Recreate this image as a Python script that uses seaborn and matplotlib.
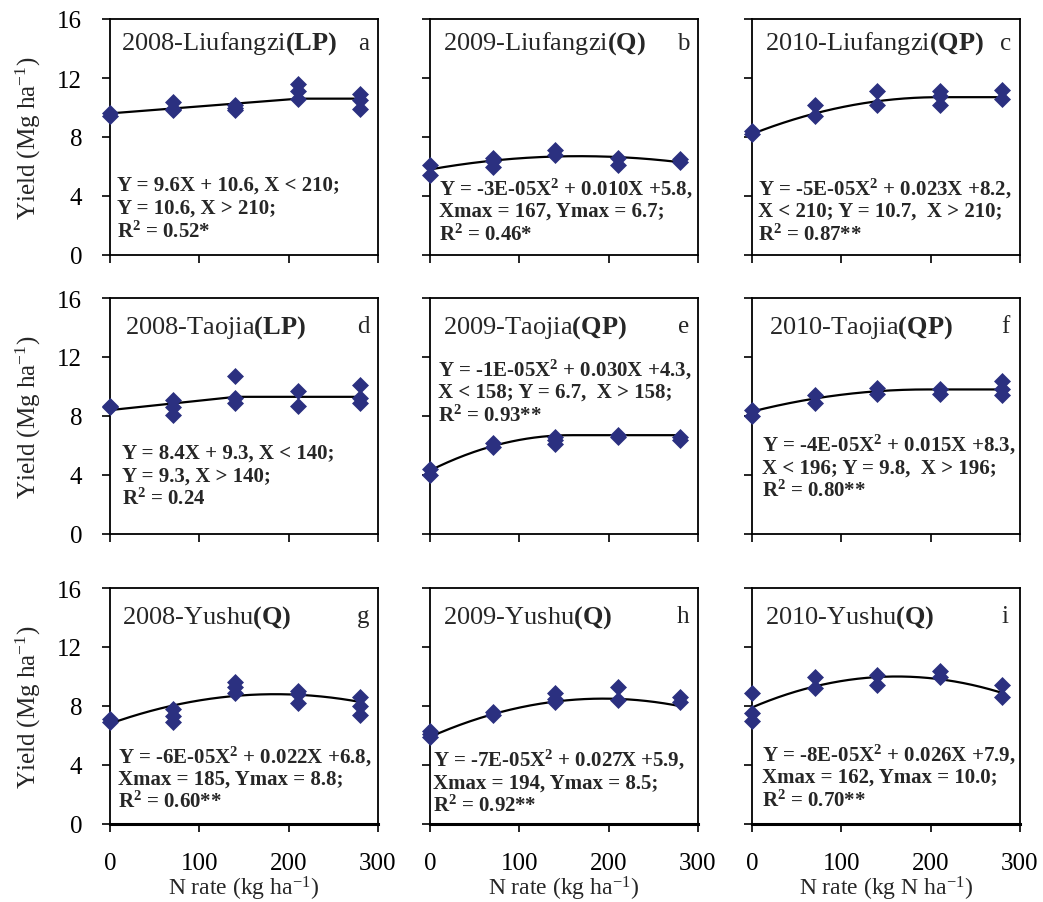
import matplotlib
matplotlib.use("Agg")
import matplotlib.pyplot as plt
import numpy as np
import pandas as pd
import seaborn as sns

# --- data ---
n_rates = [0, 70, 140, 210, 280]

sites = ["2008-Liufangzi", "2009-Liufangzi", "2010-Liufangzi",
         "2008-Taojia", "2009-Taojia", "2010-Taojia",
         "2008-Yushu", "2009-Yushu", "2010-Yushu"]
models = ["LP", "Q", "QP", "LP", "QP", "QP", "Q", "Q", "Q"]
letters = ["a", "b", "c", "d", "e", "f", "g", "h", "i"]

# observed yields (Mg/ha), one inner list per N rate
yield_a = [[9.6, 9.4], [10.4, 9.9, 9.8], [10.2, 10.0, 9.8], [11.6, 11.1, 10.6], [10.9, 10.5, 9.9]]
yield_b = [[6.1, 5.4], [6.6, 6.4, 6.0], [7.1, 6.8], [6.6, 6.1], [6.5, 6.3]]
yield_c = [[8.4, 8.2], [10.2, 9.4], [11.1, 10.2], [11.1, 10.8, 10.2], [11.2, 10.6]]
yield_d = [[8.7, 8.6], [9.1, 8.6, 8.1], [10.7, 9.2, 8.9], [9.7, 8.7], [10.1, 9.2, 8.9]]
yield_e = [[4.4, 4.0], [6.2, 5.9], [6.6, 6.4, 6.1], [6.7, 6.6], [6.6, 6.4]]
yield_f = [[8.4, 8.0], [9.4, 8.9], [9.9, 9.5], [9.8, 9.5], [10.4, 9.8, 9.4]]
yield_g = [[7.1, 6.9], [7.8, 7.3, 6.9], [9.6, 9.3, 8.9], [9.0, 8.8, 8.2], [8.6, 8.0, 7.4]]
yield_h = [[6.3, 6.1, 5.9], [7.6, 7.4], [8.9, 8.5, 8.3], [9.3, 8.4], [8.6, 8.3]]
yield_i = [[8.9, 7.5, 7.0], [10.0, 9.2], [10.1, 9.4], [10.4, 10.0], [9.4, 8.6]]
yields = [yield_a, yield_b, yield_c, yield_d, yield_e, yield_f, yield_g, yield_h, yield_i]

# fitted response: intercept, joint / Xmax, plateau / Ymax
fit_c = [9.6, 5.8, 8.2, 8.4, 4.3, 8.3, 6.8, 5.9, 7.9]
fit_xj = [210, 167, 210, 140, 158, 196, 185, 194, 162]
fit_ytop = [10.6, 6.7, 10.7, 9.3, 6.7, 9.8, 8.8, 8.5, 10.0]

SQ = "$^{\\mathbf{2}}$"
equations = [
    ["Y = 9.6X + 10.6, X < 210;", "Y = 10.6, X > 210;", "R" + SQ + " = 0.52*"],
    ["Y = -3E-05X" + SQ + " + 0.010X +5.8,", "Xmax = 167, Ymax = 6.7;", "R" + SQ + " = 0.46*"],
    ["Y = -5E-05X" + SQ + " + 0.023X +8.2,", "X < 210; Y = 10.7,  X > 210;", "R" + SQ + " = 0.87**"],
    ["Y = 8.4X + 9.3, X < 140;", "Y = 9.3, X > 140;", "R" + SQ + " = 0.24"],
    ["Y = -1E-05X" + SQ + " + 0.030X +4.3,", "X < 158; Y = 6.7,  X > 158;", "R" + SQ + " = 0.93**"],
    ["Y = -4E-05X" + SQ + " + 0.015X +8.3,", "X < 196; Y = 9.8,  X > 196;", "R" + SQ + " = 0.80**"],
    ["Y = -6E-05X" + SQ + " + 0.022X +6.8,", "Xmax = 185, Ymax = 8.8;", "R" + SQ + " = 0.60**"],
    ["Y = -7E-05X" + SQ + " + 0.027X +5.9,", "Xmax = 194, Ymax = 8.5;", "R" + SQ + " = 0.92**"],
    ["Y = -8E-05X" + SQ + " + 0.026X +7.9,", "Xmax = 162, Ymax = 10.0;", "R" + SQ + " = 0.70**"],
]

x_labels = ["N rate (kg ha$^{-1}$)", "N rate (kg ha$^{-1}$)", "N rate (kg N ha$^{-1}$)"]


def fit_curve(model, c, xj, ytop, xs):
    if model == "LP":
        return np.where(xs < xj, c + (ytop - c) / xj * xs, ytop)
    k = (ytop - c) / xj ** 2
    ys = ytop - k * (xs - xj) ** 2
    if model == "QP":
        ys = np.where(xs < xj, ys, ytop)
    return ys


sns.set_theme(style="ticks")
plt.rcParams["font.family"] = ["Liberation Serif", "DejaVu Serif"]
plt.rcParams["mathtext.fontset"] = "custom"
plt.rcParams["mathtext.rm"] = "Liberation Serif"
plt.rcParams["mathtext.bf"] = "Liberation Serif:bold"
plt.rcParams["mathtext.it"] = "Liberation Serif:italic"

W, H = 1043, 903
fig = plt.figure(figsize=(W / 100, H / 100), dpi=100)

col_left = [110, 430, 752]
row_top = [20, 299, 589]
ax_w, ax_h = 268, 236

title_x = [0.04, 0.05, 0.05, 0.056, 0.05, 0.065, 0.045, 0.05, 0.05]
title_y = [0.90, 0.90, 0.90, 0.88, 0.88, 0.88, 0.88, 0.88, 0.88]
eq_x = [0.026, 0.035, 0.023, 0.045, 0.03, 0.037, 0.03, 0.01, 0.037]
eq_y = [0.297, 0.285, 0.285, 0.347, 0.70, 0.38, 0.29, 0.275, 0.297]
line_step = 23 / ax_h

marker_color = "#2B3080"

for i in range(9):
    r, cidx = divmod(i, 3)
    left = col_left[cidx] / W
    bottom = 1 - (row_top[r] + ax_h) / H
    ax = fig.add_axes([left, bottom, ax_w / W, ax_h / H])

    rows = []
    for xv, vals in zip(n_rates, yields[i]):
        for v in vals:
            rows.append({"N": xv, "Yield": v})
    df = pd.DataFrame(rows)

    xs = np.linspace(0, 280, 200)
    curve = pd.DataFrame({"N": xs, "Yield": fit_curve(models[i], fit_c[i], fit_xj[i], fit_ytop[i], xs)})
    sns.lineplot(data=curve, x="N", y="Yield", color="black", lw=1.6, ax=ax, zorder=2)

    sns.scatterplot(data=df, x="N", y="Yield", marker="D", s=75, color=marker_color,
                    edgecolor=marker_color, linewidth=0, ax=ax, zorder=3, clip_on=False)

    ax.set_xlim(0, 300)
    ax.set_ylim(0, 16)
    ax.set_xticks([0, 100, 200, 300])
    ax.set_yticks([0, 4, 8, 12, 16])
    ax.tick_params(direction="out", length=6, width=1.2, colors="black",
                   labelsize=18, pad=14)
    for sp in ax.spines.values():
        sp.set_visible(True)
        sp.set_color("black")
        sp.set_linewidth(1.3)
    if r == 2:
        ax.spines["bottom"].set_linewidth(2.2)

    if cidx == 0:
        ax.set_ylabel("Yield (Mg ha$^{-1}$)", fontsize=18, labelpad=10)
    else:
        ax.set_ylabel("")
        ax.tick_params(labelleft=False)
    if r == 2:
        ax.set_xlabel(x_labels[cidx], fontsize=17, labelpad=0)
    else:
        ax.set_xlabel("")
        ax.tick_params(labelbottom=False)

    ax.text(title_x[i], title_y[i], sites[i] + "$\\mathbf{(" + models[i] + ")}$",
            transform=ax.transAxes, fontsize=19, ha="left", va="center")
    ax.text(0.945, title_y[i], letters[i], transform=ax.transAxes,
            fontsize=18, ha="center", va="center")
    for j, line in enumerate(equations[i]):
        ax.text(eq_x[i], eq_y[i] - j * line_step, line, transform=ax.transAxes,
                fontsize=15, fontweight="bold", ha="left", va="center", zorder=4)

fig.savefig("out.png", dpi=100)
